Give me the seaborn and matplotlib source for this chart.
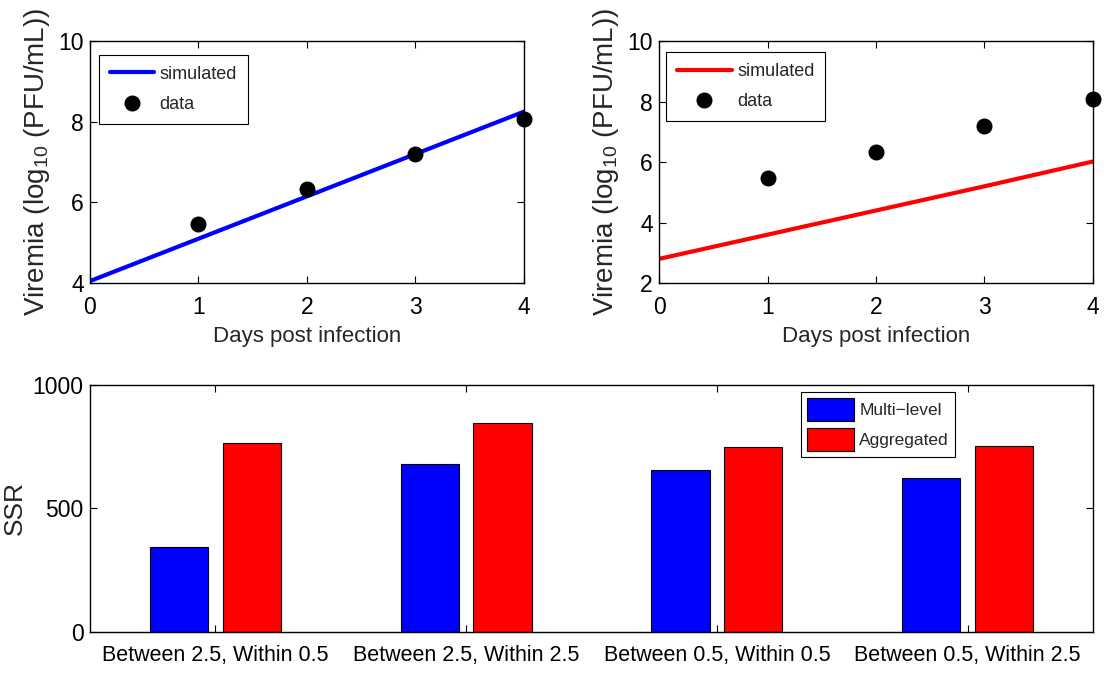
import matplotlib
matplotlib.use('Agg')
import matplotlib.pyplot as plt
import seaborn as sns
import pandas as pd

# data
days = [0, 1, 2, 3, 4]
sim_multi = [4.05, 5.1, 6.15, 7.2, 8.25]
sim_aggr = [2.8, 3.6, 4.4, 5.2, 6.02]
obs_days = [1, 2, 3, 4]
obs_vals = [5.47, 6.33, 7.2, 8.08]

scenarios = ['Between 2.5, Within 0.5', 'Between 2.5, Within 2.5',
             'Between 0.5, Within 0.5', 'Between 0.5, Within 2.5']
ssr_multi = [343, 680, 655, 623]
ssr_aggr = [765, 845, 750, 753]

sns.set_style('ticks')
plt.rcParams['font.family'] = ['Liberation Sans', 'DejaVu Sans']
plt.rcParams['mathtext.fontset'] = 'custom'
plt.rcParams['mathtext.rm'] = 'Liberation Sans'
plt.rcParams['mathtext.it'] = 'Liberation Sans'
plt.rcParams['axes.edgecolor'] = 'black'

fig = plt.figure(figsize=(11.04, 6.74), dpi=100)


def style_axes(ax, xsize=16.5, xpad=9):
    for s in ax.spines.values():
        s.set_visible(True)
        s.set_color('black')
        s.set_linewidth(1.0)
    ax.tick_params(direction='in', length=5, width=0.8, top=True, right=True,
                   colors='black')
    ax.tick_params(axis='x', labelsize=xsize, pad=xpad)
    ax.tick_params(axis='y', labelsize=16.5, pad=4.5)


# ---------- top panels ----------
panels = [
    (0.0815, sim_multi, 'blue', (4, 10), [4, 6, 8, 10], (0.0214, 0.943), 2.45),
    (0.597, sim_aggr, 'red', (2, 10), [2, 4, 6, 8, 10], (0.0154, 0.9545), 3.05),
]
for left, sim, col, ylim, yticks, leg_pos, hlen in panels:
    ax = fig.add_axes([left, 0.580, 0.393, 0.359])
    df_sim = pd.DataFrame({'Day': days, 'Viremia': sim})
    df_obs = pd.DataFrame({'Day': obs_days, 'Viremia': obs_vals})
    sns.lineplot(data=df_sim, x='Day', y='Viremia', color=col, lw=3,
                 ax=ax, label='simulated')
    ax.plot(df_obs['Day'], df_obs['Viremia'], 'o', color='black', ms=10.5,
            label='data', clip_on=False, zorder=5)
    ax.set_xlim(0, 4)
    ax.set_ylim(*ylim)
    ax.set_xticks([0, 1, 2, 3, 4])
    ax.set_yticks(yticks)
    style_axes(ax)
    ax.set_xlabel('Days post infection', fontsize=16, labelpad=5)
    ax.set_ylabel('Viremia (log$_{10}$ (PFU/mL))', fontsize=20)
    ax.yaxis.set_label_coords(-0.087, 0.5)
    leg = ax.legend(loc='upper left', bbox_to_anchor=leg_pos, borderaxespad=0,
                    fontsize=13, frameon=True, fancybox=False,
                    edgecolor='black', framealpha=1, handlelength=hlen,
                    handletextpad=0.3, borderpad=0.6, labelspacing=0.75)
    leg.get_frame().set_linewidth(0.8)

# ---------- bottom panel ----------
ax = fig.add_axes([0.0815, 0.0623, 0.9085, 0.3665])
df_bar = pd.DataFrame({
    'Scenario': scenarios * 2,
    'SSR': ssr_multi + ssr_aggr,
    'Model': ['Multi\u2212level'] * 4 + ['Aggregated'] * 4,
})
sns.barplot(data=df_bar, x='Scenario', y='SSR', hue='Model',
            palette=['#0000ff', '#ff0000'], width=0.58, gap=0.2,
            edgecolor='black', linewidth=0.8, ax=ax, saturation=1)
ax.set_xlim(-0.5, 3.5)
ax.set_ylim(0, 1000)
ax.set_yticks([0, 500, 1000])
style_axes(ax, xsize=15.5, xpad=9)
ax.set_xlabel('')
ax.set_ylabel('SSR', fontsize=19)
ax.yaxis.set_label_coords(-0.063, 0.5)
leg = ax.legend(loc='upper right', bbox_to_anchor=(0.8624, 0.9717),
                borderaxespad=0, fontsize=12.5, frameon=True, fancybox=False,
                edgecolor='black', framealpha=1, title=None,
                handlelength=2.7, handleheight=1.7, borderpad=0.35,
                labelspacing=0.35, handletextpad=0.3)
leg.get_frame().set_linewidth(0.8)

fig.savefig('out.png', dpi=100)
